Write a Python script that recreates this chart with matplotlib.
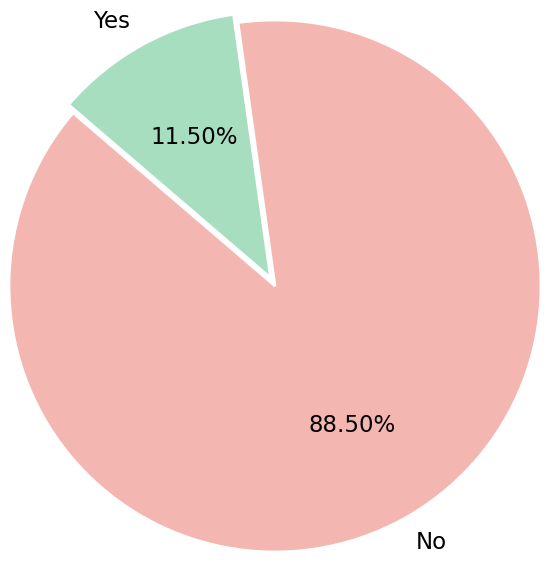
import matplotlib
matplotlib.use("Agg")
import matplotlib.pyplot as plt

labels = ["Yes", "No"]
values = [11.5, 88.5]
colors = ["#a8dec0", "#f4b6b1"]
explode = [0.035, 0.0]

fig = plt.figure(figsize=(5.5, 5.63), dpi=100)
ax = fig.add_axes([0, 0, 1, 1])
wedges, texts, autotexts = ax.pie(
    values, labels=labels, colors=colors, explode=explode,
    startangle=98, autopct="%1.2f%%", pctdistance=0.6, labeldistance=1.1,
    wedgeprops=dict(edgecolor="white", linewidth=2),
    textprops=dict(fontsize=16.5, color="black"),
)
r = 266.0
cx, cy = 275.0, 286.0
ax.set_xlim(-cx / r, (550 - cx) / r)
ax.set_ylim(-(563 - cy) / r, cy / r)
ax.set_aspect("auto")
ax.axis("off")
fig.savefig("out.png", dpi=100)
